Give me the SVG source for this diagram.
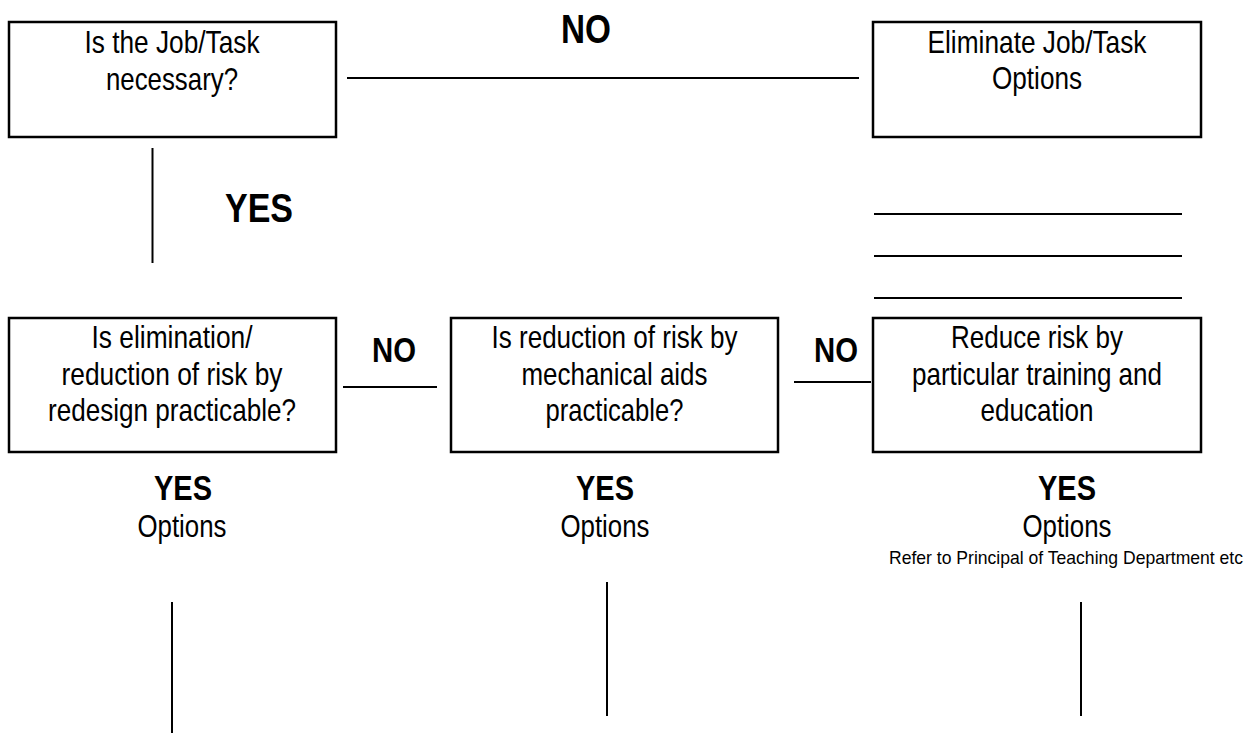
<svg xmlns="http://www.w3.org/2000/svg" width="1259" height="733" viewBox="0 0 1259 733">
<style>
.box{fill:#fff;stroke:#000;stroke-width:2.5}
.ln{stroke:#000;stroke-width:2;fill:none}
text{font-family:"Liberation Sans Narrow","Arial Narrow","Liberation Sans",sans-serif;text-anchor:middle;fill:#000}
.t{font-size:30.5px}
.b{font-weight:bold}
.s{font-size:18.5px}
</style>
<rect width="1259" height="733" fill="#fff"/>
<g id="connectors">
<line class="ln" x1="347" y1="78" x2="859" y2="78"/>
<line class="ln" x1="152.5" y1="148" x2="152.5" y2="263"/>
<line class="ln" x1="343" y1="387" x2="437" y2="387"/>
<line class="ln" x1="794" y1="382" x2="871" y2="382"/>
<line class="ln" x1="172" y1="602" x2="172" y2="733"/>
<line class="ln" x1="607" y1="582" x2="607" y2="716"/>
<line class="ln" x1="1081" y1="602" x2="1081" y2="716"/>
<line class="ln" x1="874" y1="214" x2="1182" y2="214"/>
<line class="ln" x1="874" y1="256" x2="1182" y2="256"/>
<line class="ln" x1="874" y1="298" x2="1182" y2="298"/>
</g>
<g id="labels">
<text class="b" x="586" y="43" font-size="40" textLength="50" lengthAdjust="spacingAndGlyphs">NO</text>
<text class="b" x="259" y="222" font-size="41" textLength="68" lengthAdjust="spacingAndGlyphs">YES</text>
<text class="b" x="394" y="362" font-size="35" textLength="44" lengthAdjust="spacingAndGlyphs">NO</text>
<text class="b" x="836" y="362" font-size="35" textLength="44" lengthAdjust="spacingAndGlyphs">NO</text>
</g>
<g id="node-necessary">
<rect class="box" x="9" y="22" width="327" height="115"/>
<text class="t" x="172" y="53" textLength="175" lengthAdjust="spacingAndGlyphs">Is the Job/Task</text>
<text class="t" x="172" y="90" textLength="132" lengthAdjust="spacingAndGlyphs">necessary?</text>
</g>
<g id="node-eliminate">
<rect class="box" x="873" y="22" width="328" height="115"/>
<text class="t" x="1037" y="53" textLength="219" lengthAdjust="spacingAndGlyphs">Eliminate Job/Task</text>
<text class="t" x="1037" y="89" textLength="90" lengthAdjust="spacingAndGlyphs">Options</text>
</g>
<g id="node-redesign">
<rect class="box" x="9" y="318" width="327" height="134"/>
<text class="t" x="172" y="348" textLength="161" lengthAdjust="spacingAndGlyphs">Is elimination/</text>
<text class="t" x="172" y="384.5" textLength="221" lengthAdjust="spacingAndGlyphs">reduction of risk by</text>
<text class="t" x="172" y="421" textLength="248" lengthAdjust="spacingAndGlyphs">redesign practicable?</text>
<text class="b" x="183" y="500" font-size="35" textLength="58" lengthAdjust="spacingAndGlyphs">YES</text>
<text class="t" x="182" y="537" textLength="89" lengthAdjust="spacingAndGlyphs">Options</text>
</g>
<g id="node-mechanical">
<rect class="box" x="451" y="318" width="327" height="134"/>
<text class="t" x="614.5" y="348" textLength="246" lengthAdjust="spacingAndGlyphs">Is reduction of risk by</text>
<text class="t" x="614.5" y="384.5" textLength="186" lengthAdjust="spacingAndGlyphs">mechanical aids</text>
<text class="t" x="614.5" y="421" textLength="138" lengthAdjust="spacingAndGlyphs">practicable?</text>
<text class="b" x="605" y="500" font-size="35" textLength="58" lengthAdjust="spacingAndGlyphs">YES</text>
<text class="t" x="605" y="537" textLength="89" lengthAdjust="spacingAndGlyphs">Options</text>
</g>
<g id="node-training">
<rect class="box" x="873" y="318" width="328" height="134"/>
<text class="t" x="1037" y="348" textLength="172" lengthAdjust="spacingAndGlyphs">Reduce risk by</text>
<text class="t" x="1037" y="384.5" textLength="250" lengthAdjust="spacingAndGlyphs">particular training and</text>
<text class="t" x="1037" y="421" textLength="113" lengthAdjust="spacingAndGlyphs">education</text>
<text class="b" x="1067" y="500" font-size="35" textLength="58" lengthAdjust="spacingAndGlyphs">YES</text>
<text class="t" x="1067" y="537" textLength="89" lengthAdjust="spacingAndGlyphs">Options</text>
<text class="s" x="1066" y="564" textLength="354" lengthAdjust="spacingAndGlyphs">Refer to Principal of Teaching Department etc</text>
</g>
</svg>
